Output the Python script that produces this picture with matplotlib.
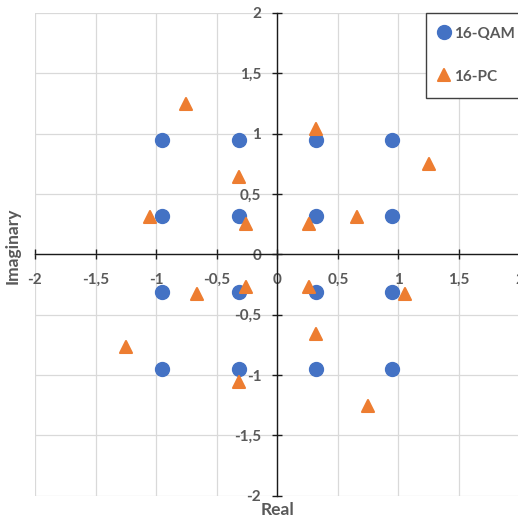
import matplotlib
matplotlib.use("Agg")
import matplotlib.pyplot as plt
from matplotlib.markers import MarkerStyle
from matplotlib.ticker import FuncFormatter, MultipleLocator

# 16-QAM constellation (unit average power)
qam_re = [-0.949, -0.316, 0.316, 0.949,
          -0.949, -0.316, 0.316, 0.949,
          -0.949, -0.316, 0.316, 0.949,
          -0.949, -0.316, 0.316, 0.949]
qam_im = [0.949, 0.949, 0.949, 0.949,
          0.316, 0.316, 0.316, 0.316,
          -0.316, -0.316, -0.316, -0.316,
          -0.949, -0.949, -0.949, -0.949]

# 16-PC constellation
pc_re = [-0.75, 0.32, -0.32, 1.25, -1.05, -0.26, 0.26, 0.66,
         -0.66, -0.26, 0.26, 1.05, 0.32, -1.25, -0.32, 0.75]
pc_im = [1.25, 1.04, 0.64, 0.75, 0.31, 0.25, 0.25, 0.31,
         -0.33, -0.27, -0.27, -0.33, -0.66, -0.77, -1.06, -1.26]

series_names = ["16-QAM", "16-PC"]
x_label = "Real"
y_label = "Imaginary"

BLUE = "#4472C4"
ORANGE = "#ED7D31"
TEXT = "#595959"
FONT = "Lato"

plt.rcParams["font.family"] = [FONT, "DejaVu Sans"]

W, H = 518, 519
fig = plt.figure(figsize=(W / 100, H / 100), dpi=100)
left_px, right_px, top_px, bottom_px = 35, 519.6, 13, 495.7
ax = fig.add_axes([left_px / W, (H - bottom_px) / H,
                   (right_px - left_px) / W, (bottom_px - top_px) / H])
ax.set_xlim(-2, 2)
ax.set_ylim(-2, 2)

ax.xaxis.set_major_locator(MultipleLocator(0.5))
ax.yaxis.set_major_locator(MultipleLocator(0.5))
fmt = FuncFormatter(lambda v, p: ("%g" % v).replace(".", ","))
ax.xaxis.set_major_formatter(fmt)
ax.yaxis.set_major_formatter(fmt)

ax.grid(True, color="#d9d9d9", linewidth=0.9, zorder=0)
ax.set_axisbelow(True)

for side in ("top", "right"):
    ax.spines[side].set_visible(False)
ax.spines["left"].set_position(("data", 0))
ax.spines["bottom"].set_position(("data", 0))
for side in ("left", "bottom"):
    ax.spines[side].set_color("#1a1a1a")
    ax.spines[side].set_linewidth(1.0)
    ax.spines[side].set_zorder(1)

ax.tick_params(axis="both", direction="inout", length=7, width=1.0,
               color="#1a1a1a", labelcolor=TEXT, labelsize=11)
ax.tick_params(axis="x", pad=10)
ax.tick_params(axis="y", pad=8)
for lab in ax.get_xticklabels() + ax.get_yticklabels():
    lab.set_fontweight("bold")

ax.plot(qam_re, qam_im, linestyle="none", marker="o", markersize=10,
        color=BLUE, markeredgecolor=BLUE, markeredgewidth=1.0,
        label=series_names[0], zorder=3, clip_on=False)
ax.plot(pc_re, pc_im, linestyle="none",
        marker=MarkerStyle("^", joinstyle="round"), markersize=8.6,
        color=ORANGE, markeredgecolor=ORANGE, markeredgewidth=1.5,
        label=series_names[1], zorder=4, clip_on=False)

leg = ax.legend(loc="upper left", bbox_to_anchor=(0.807, 1.0),
                borderaxespad=0, frameon=True, fancybox=False,
                edgecolor="#404040", framealpha=1, handlelength=0.6,
                handletextpad=0.3, labelspacing=1.9, borderpad=0.9,
                prop={"family": FONT, "weight": "bold", "size": 11})
leg.get_frame().set_linewidth(1.0)
for t in leg.get_texts():
    t.set_color(TEXT)

fig.text(277 / W, 1 - 510 / H, x_label, ha="center", va="center",
         color=TEXT, fontsize=12.5, fontweight="bold")
fig.text(13 / W, 1 - 246 / H, y_label, ha="center", va="center",
         rotation=90, color=TEXT, fontsize=12.5, fontweight="bold")

fig.savefig("out.png", dpi=100, facecolor="white")
